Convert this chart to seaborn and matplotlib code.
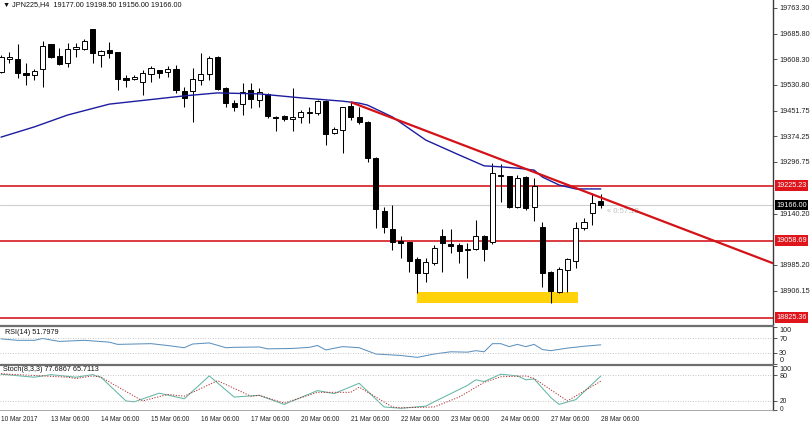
import numpy as np
import pandas as pd
import matplotlib
matplotlib.use("Agg")
import matplotlib.pyplot as plt
import seaborn as sns
from matplotlib.lines import Line2D

#########################################################
# Data (JPN225, H4)
#########################################################

opens = [19569, 19609, 19609, 19566, 19560, 19578, 19654, 19618, 19597, 19639,
         19639, 19700, 19621, 19636, 19630, 19551, 19548, 19539, 19563, 19575,
         19569, 19578, 19512, 19512, 19545, 19563, 19615, 19521, 19475, 19472,
         19515, 19484, 19503, 19433, 19436, 19427, 19433, 19445, 19445, 19482,
         19385, 19394, 19466, 19433, 19418, 19309, 19148, 19094, 19057, 19054,
         19003, 18960, 18991, 19072, 19048, 19045, 19030, 19033, 19072, 19054,
         19254, 19254, 19160, 19251, 19160, 19100, 18963, 18903, 18969, 18997,
         19097, 19142, 19177]
highs = [19621, 19630, 19654, 19597, 19578, 19663, 19654, 19642, 19657, 19657,
         19669, 19700, 19636, 19660, 19630, 19560, 19560, 19575, 19588, 19575,
         19588, 19591, 19524, 19582, 19627, 19618, 19618, 19524, 19485, 19536,
         19536, 19521, 19506, 19436, 19439, 19521, 19454, 19463, 19484, 19485,
         19403, 19463, 19478, 19463, 19421, 19312, 19160, 19166, 19072, 19054,
         19009, 19006, 19045, 19094, 19094, 19051, 19051, 19121, 19075, 19294,
         19291, 19254, 19257, 19254, 19248, 19115, 18966, 18979, 19006, 19115,
         19127, 19203, 19198.5]
lows = [19566, 19597, 19551, 19530, 19545, 19524, 19612, 19591, 19585, 19615,
        19636, 19597, 19585, 19612, 19515, 19524, 19545, 19500, 19539, 19551,
        19554, 19506, 19463, 19418, 19530, 19545, 19515, 19463, 19451, 19439,
        19460, 19463, 19430, 19391, 19421, 19391, 19415, 19415, 19439, 19348,
        19382, 19324, 19424, 19412, 19297, 19097, 19082, 19030, 19006, 18963,
        18900, 18933, 18985, 18963, 19021, 18991, 18945, 19030, 18997, 19048,
        19175, 19157, 19157, 19151, 19118, 18918, 18869, 18900, 18903, 18975,
        19091, 19106, 19156]
closes = [19615, 19615, 19566, 19560, 19572, 19648, 19615, 19594, 19639, 19645,
          19663, 19627, 19633, 19627, 19548, 19545, 19554, 19566, 19581, 19566,
          19578, 19515, 19491, 19548, 19563, 19612, 19518, 19475, 19463, 19509,
          19488, 19509, 19436, 19431, 19427, 19433, 19448, 19448, 19482, 19382,
          19397, 19463, 19433, 19418, 19309, 19154, 19100, 19054, 19051, 18997,
          18960, 18994, 19036, 19051, 19042, 19027, 19033, 19072, 19033, 19263,
          19257, 19160, 19248, 19157, 19224, 18960, 18906, 18972, 19003, 19097,
          19115, 19172, 19166]

# moving average (blue)
ma_bar = [0, 4, 8, 13, 22, 26, 31, 36, 41, 43, 44, 47, 51, 55, 58, 60, 62, 64, 65, 67, 69, 72]
ma_val = [19372, 19403, 19439, 19472, 19497, 19506, 19503, 19491, 19481, 19475, 19469,
          19433, 19363, 19318, 19285, 19282, 19278, 19272, 19251, 19227, 19215, 19215]

# RSI(14)
rsi_bar = [0, 2, 4, 5, 7, 10, 13, 14, 18, 20, 22, 23, 25, 27, 28, 31, 32, 35, 37, 38,
           39, 41, 43, 45, 48, 50, 52, 54, 56, 57, 58, 59, 60, 61, 62, 63, 64, 65, 66,
           68, 70, 72]
rsi_val = [68, 64, 64, 69, 61, 64, 59, 53, 55, 50, 44, 54, 57, 44, 45, 46, 41, 42, 45, 50,
           38, 47, 44, 27, 23, 18, 27, 33, 32, 36, 33, 55, 55, 47, 53, 47, 53, 39, 36,
           43, 48, 51.8]

# Stochastic(8,3,3): main and signal
k_bar = [0, 4, 6, 9, 11, 12, 15, 16, 19, 22, 25, 28, 31, 34, 38, 40, 43, 46, 48, 51,
         52, 56, 57, 58, 60, 62, 63, 64, 66, 67, 69, 72]
k_val = [82, 75, 81, 75, 81, 75, 20, 18, 38, 25, 78, 29, 33, 12, 44, 37, 61, 6, 3, 8,
         18, 56, 69, 65, 82, 78, 69, 71, 28, 12, 23, 77.69]
d_bar = [0, 8, 9, 11, 12, 17, 20, 22, 26, 30, 31, 34, 38, 42, 43, 47, 48, 52, 55, 58,
         60, 63, 64, 68, 72]
d_val = [83, 75, 72, 78, 75, 20, 35, 31, 67, 31, 33, 15, 40, 40, 52, 6, 4, 6, 29, 63,
         76, 78, 72, 20, 65.71]

date_bars = [0, 6, 12, 18, 24, 30, 36, 42, 48, 54, 60, 66, 72]
date_labels = ["10 Mar 2017", "13 Mar 06:00", "14 Mar 06:00", "15 Mar 06:00",
               "16 Mar 06:00", "17 Mar 06:00", "20 Mar 06:00", "21 Mar 06:00",
               "22 Mar 06:00", "23 Mar 06:00", "24 Mar 06:00", "27 Mar 06:00",
               "28 Mar 06:00"]

price_ticks = [19763.30, 19685.80, 19608.30, 19530.80, 19451.75, 19374.25,
               19296.75, 19140.20, 18985.20, 18906.15]
level_lines = [19225.23, 19058.69, 18825.36]
bid_price = 19166.00
trend_bars = [42, 72]
trend_prices = [19478, 19189]
zone_bars = [50, 69.3]
zone_prices = [18869, 18903]

header = "\u25bc JPN225,H4  19177.00 19198.50 19156.00 19166.00"

#########################################################
# Figure layout (MT4 style, three panes)
#########################################################

sns.set_style("white")
plt.rcParams["font.family"] = ["Liberation Sans", "DejaVu Sans"]

W, H = 810, 423
fig = plt.figure(figsize=(W / 100, H / 100), dpi=100)
fig.patch.set_facecolor("white")

right = 773 / W


def pane(top_px, bot_px):
    return fig.add_axes([0, 1 - bot_px / H, right, (bot_px - top_px) / H])


ax = pane(0, 325)
ax_rsi = pane(327, 364)
ax_sto = pane(366, 410)

xlim = (-0.12, 92.68)
fs = 5.2
axis_col = "#3a3a3a"

for a in (ax, ax_rsi, ax_sto):
    a.set_xlim(*xlim)
    a.set_facecolor("white")
    for s in ("top", "left", "bottom"):
        a.spines[s].set_visible(False)
    a.spines["right"].set_color(axis_col)
    a.spines["right"].set_linewidth(1.0)
    a.yaxis.tick_right()
    a.tick_params(axis="y", direction="out", length=3, width=0.6, color=axis_col,
                  labelsize=fs, pad=1.5, labelcolor="#202020")
    a.set_xlabel("")
    a.set_ylabel("")

ax.set_xticks([])
ax_rsi.set_xticks([])

#########################################################
# Main pane: candles, MA, levels
#########################################################

df = pd.DataFrame({"open": opens, "high": highs, "low": lows, "close": closes})
df["bar"] = np.arange(len(df))
up = df["close"] >= df["open"]
body = (df["close"] - df["open"]).abs().clip(lower=2.5)
bottom = df[["open", "close"]].min(axis=1)

ax.fill_between(zone_bars, zone_prices[0], zone_prices[1], color="#FFD20A", lw=0, zorder=1)

for p in level_lines:
    ax.axhline(p, color="#D41218", lw=1.15, zorder=2)
ax.axhline(bid_price, color="#CFCFCF", lw=0.8, zorder=1.5)

ax.vlines(df["bar"], df["low"], df["high"], color="black", lw=0.75, zorder=3)
ax.bar(df["bar"][up], body[up], bottom=bottom[up], width=0.62, color="white",
       edgecolor="black", linewidth=0.7, zorder=4)
ax.bar(df["bar"][~up], body[~up], bottom=bottom[~up], width=0.62, color="black",
       edgecolor="black", linewidth=0.7, zorder=4)

sns.lineplot(x=ma_bar, y=ma_val, ax=ax, color="#1C1CA0", lw=1.0, sort=False, zorder=5)

slope = (trend_prices[1] - trend_prices[0]) / (trend_bars[1] - trend_bars[0])
tx = [trend_bars[0], xlim[1]]
ty = [trend_prices[0], trend_prices[0] + slope * (xlim[1] - trend_bars[0])]
ax.plot(tx, ty, color="#D41218", lw=1.6, zorder=6, solid_capstyle="butt")

ax.set_ylim(18802.75, 19787.5)
ax.set_yticks(price_ticks)
ax.set_yticklabels([f"{p:.2f}" for p in price_ticks])

ytr = ax.get_yaxis_transform()
for p in level_lines:
    ax.text(1.004, p, f"{p:.2f}", transform=ytr, ha="left", va="center", fontsize=fs,
            color="white", clip_on=False,
            bbox=dict(boxstyle="square,pad=0.22", fc="#E0141B", ec="none"))
ax.text(1.004, bid_price, f"{bid_price:.2f}", transform=ytr, ha="left", va="center",
        fontsize=fs, color="white", clip_on=False,
        bbox=dict(boxstyle="square,pad=0.22", fc="black", ec="none"))

ax.text(len(df) - 1 + 0.8, bid_price - 18, "\u00ab 0:57:12", fontsize=fs + 0.3,
        color="#BDBDBD", ha="left", va="center")
ax.text(0.004, 1 - 5 / 325, header, transform=ax.transAxes, fontsize=fs,
        color="#101010", ha="left", va="center")

#########################################################
# RSI pane
#########################################################

sns.lineplot(x=rsi_bar, y=rsi_val, ax=ax_rsi, color="#5E92BF", lw=0.75, sort=False)
for lv in (30, 70):
    ax_rsi.axhline(lv, color="#B5B5B5", lw=0.6, ls=(0, (1, 2)))
ax_rsi.set_ylim(0, 100)
ax_rsi.set_yticks([0, 30, 70, 100])
ax_rsi.set_yticklabels(["0", "30", "70", "100"])
rl = ax_rsi.get_yticklabels()
rl[0].set_verticalalignment("bottom")
rl[3].set_verticalalignment("top")
ax_rsi.text(0.006, 0.86, "RSI(14) 51.7979", transform=ax_rsi.transAxes, fontsize=fs,
            color="#101010", ha="left", va="center")

#########################################################
# Stochastic pane
#########################################################

sns.lineplot(x=k_bar, y=k_val, ax=ax_sto, color="#63B7A6", lw=0.75, sort=False)
sns.lineplot(x=d_bar, y=d_val, ax=ax_sto, color="#B02828", lw=0.7, sort=False,
             linestyle=(0, (1.2, 1.6)))
for lv in (20, 80):
    ax_sto.axhline(lv, color="#B5B5B5", lw=0.6, ls=(0, (1, 2)))
ax_sto.set_ylim(-1, 101)
ax_sto.set_yticks([0, 20, 80, 100])
ax_sto.set_yticklabels(["0", "20", "80", "100"])
sl = ax_sto.get_yticklabels()
sl[0].set_verticalalignment("center")
sl[0].set_fontsize(fs - 0.4)
sl[1].set_fontsize(fs - 0.4)
sl[3].set_verticalalignment("top")
ax_sto.text(0.004, 0.93, "Stoch(8,3,3) 77.6867 65.7113", transform=ax_sto.transAxes,
            fontsize=fs, color="#101010", ha="left", va="center")

ax_sto.spines["bottom"].set_visible(True)
ax_sto.spines["bottom"].set_color("#9a9a9a")
ax_sto.spines["bottom"].set_linewidth(0.6)
ax_sto.set_xticks(date_bars)
ax_sto.set_xticklabels(date_labels, ha="left")
ax_sto.tick_params(axis="x", direction="out", length=3, width=0.6, color=axis_col,
                   labelsize=4.7, pad=1.5, labelcolor="#202020")

# pane separators
for y_px in (326, 365):
    fig.add_artist(Line2D([0, right], [1 - y_px / H] * 2, color="#6E6E6E", lw=1.6))

fig.savefig("out.png", dpi=100, facecolor="white")
